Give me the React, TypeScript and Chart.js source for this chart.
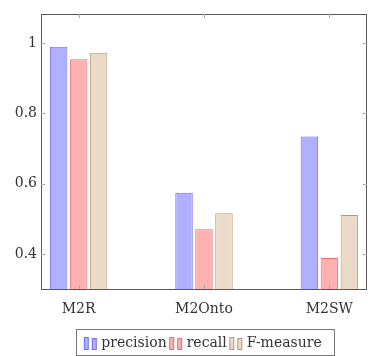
import React, { useEffect, useRef } from "react";
import { Chart, registerables } from "chart.js";

Chart.register(...registerables);

const categories = ["M2R", "M2Onto", "M2SW"];
const seriesNames = ["precision", "recall", "F-measure"];
const precision = [0.99, 0.574, 0.734];
const recall = [0.954, 0.47, 0.388];
const fmeasure = [0.973, 0.516, 0.511];
const yTicks = [0.4, 0.6, 0.8, 1];

const fills = ["rgb(176,176,255)", "rgb(255,176,176)", "rgb(236,218,200)"];
const borders = ["rgb(110,110,245)", "rgb(235,110,110)", "rgb(185,150,115)"];

const FONT = "'DejaVu Serif', 'Liberation Serif', serif";

function makeMark(fill: string, stroke: string): HTMLCanvasElement {
  const c = document.createElement("canvas");
  c.width = 15;
  c.height = 14;
  const g = c.getContext("2d")!;
  g.fillStyle = fill;
  g.strokeStyle = stroke;
  g.lineWidth = 1;
  g.fillRect(1, 1, 5, 13);
  g.strokeRect(1.5, 1.5, 4, 12);
  g.fillRect(9, 2, 5, 12);
  g.strokeRect(9.5, 2.5, 4, 11);
  return c;
}

const framePlugin = {
  id: "frame",
  afterDraw(chart: any) {
    const { ctx, chartArea } = chart;
    const { left, right, top, bottom } = chartArea;
    ctx.save();
    ctx.strokeStyle = "#5a5a5a";
    ctx.lineWidth = 1;
    ctx.strokeRect(Math.round(left) + 0.5, Math.round(top) + 0.5, Math.round(right - left) - 1, Math.round(bottom - top));
    ctx.strokeStyle = "#aaaaaa";
    const xs = chart.scales.x;
    const ys = chart.scales.y;
    ctx.beginPath();
    categories.forEach((_, i) => {
      const px = Math.round(xs.getPixelForValue(i)) + 0.5;
      ctx.moveTo(px, top);
      ctx.lineTo(px, top + 4);
      ctx.moveTo(px, bottom);
      ctx.lineTo(px, bottom - 4);
    });
    yTicks.forEach((v) => {
      const py = Math.round(ys.getPixelForValue(v)) + 0.5;
      ctx.moveTo(left, py);
      ctx.lineTo(left + 4, py);
      ctx.moveTo(right, py);
      ctx.lineTo(right - 4, py);
    });
    ctx.stroke();
    const lg = chart.legend;
    if (lg && lg.legendHitBoxes && lg.legendHitBoxes.length) {
      const boxes = lg.legendHitBoxes;
      let l = Infinity, r = -Infinity, t = Infinity, b = -Infinity;
      boxes.forEach((h: any) => {
        l = Math.min(l, h.left);
        r = Math.max(r, h.left + h.width);
        t = Math.min(t, h.top);
        b = Math.max(b, h.top + h.height);
      });
      ctx.strokeStyle = "#777777";
      const x0 = Math.round(l - 10) + 0.5;
      const y0 = Math.round(t - 7) + 0.5;
      const x1 = Math.round(r + 12) + 0.5;
      const y1 = Math.round(b + 5) + 0.5;
      ctx.strokeRect(x0, y0, x1 - x0, y1 - y0);
    }
    ctx.restore();
  },
};

export default function App() {
  const ref = useRef<HTMLCanvasElement>(null);
  useEffect(() => {
    document.body.style.margin = "0";
    const series = [precision, recall, fmeasure];
    const marks = fills.map((f, i) => makeMark(f, borders[i]));
    const chart = new Chart(ref.current!, {
      type: "bar",
      data: {
        datasets: series.map((vals, k) => ({
          label: seriesNames[k],
          data: vals.map((v, i) => ({ x: i, y: v })),
          backgroundColor: fills[k],
          borderColor: borders[k],
          borderWidth: 1,
          categoryPercentage: 0.478,
          barPercentage: 0.875,
          pointStyle: marks[k],
        })),
      },
      options: {
        responsive: false,
        animation: false,
        layout: { padding: { top: 14, right: 1, left: 0, bottom: -4 } },
        plugins: {
          tooltip: { enabled: false },
          legend: {
            position: "bottom",
            fullSize: false,
            labels: {
              usePointStyle: true,
              font: { family: FONT, size: 14 },
              color: "#333",
              padding: 5,
              boxWidth: 8,
              boxHeight: 14,
            },
          },
        },
        scales: {
          x: {
            type: "linear",
            offset: false,
            min: -0.3,
            max: 2.3,
            grid: { display: false, offset: false, drawTicks: false, tickLength: 0 },
            border: { display: false },
            afterBuildTicks: (s: any) => {
              s.ticks = categories.map((_, i) => ({ value: i }));
            },
            afterFit: (s: any) => {
              s.height = 42;
              s.paddingLeft = 0;
              s.paddingRight = 0;
            },
            ticks: {
              padding: 12,
              maxRotation: 0,
              font: { family: FONT, size: 14 },
              color: "#333",
              callback: (v: any) => categories[v] ?? "",
            },
          },
          y: {
            min: 0.3,
            max: 1.083,
            grid: { display: false, drawTicks: false, tickLength: 0 },
            border: { display: false },
            afterBuildTicks: (s: any) => {
              s.ticks = yTicks.map((v) => ({ value: v }));
            },
            afterFit: (s: any) => {
              s.width = 41;
              s.paddingTop = 0;
              s.paddingBottom = 0;
            },
            ticks: {
              padding: 4,
              font: { family: FONT, size: 14 },
              color: "#333",
              callback: (v: any) => String(v),
            },
          },
        },
      },
      plugins: [framePlugin],
    });
    return () => chart.destroy();
  }, []);
  return (
    <div style={{ width: 368, height: 356 }}>
      <canvas ref={ref} width={368} height={356} />
    </div>
  );
}
